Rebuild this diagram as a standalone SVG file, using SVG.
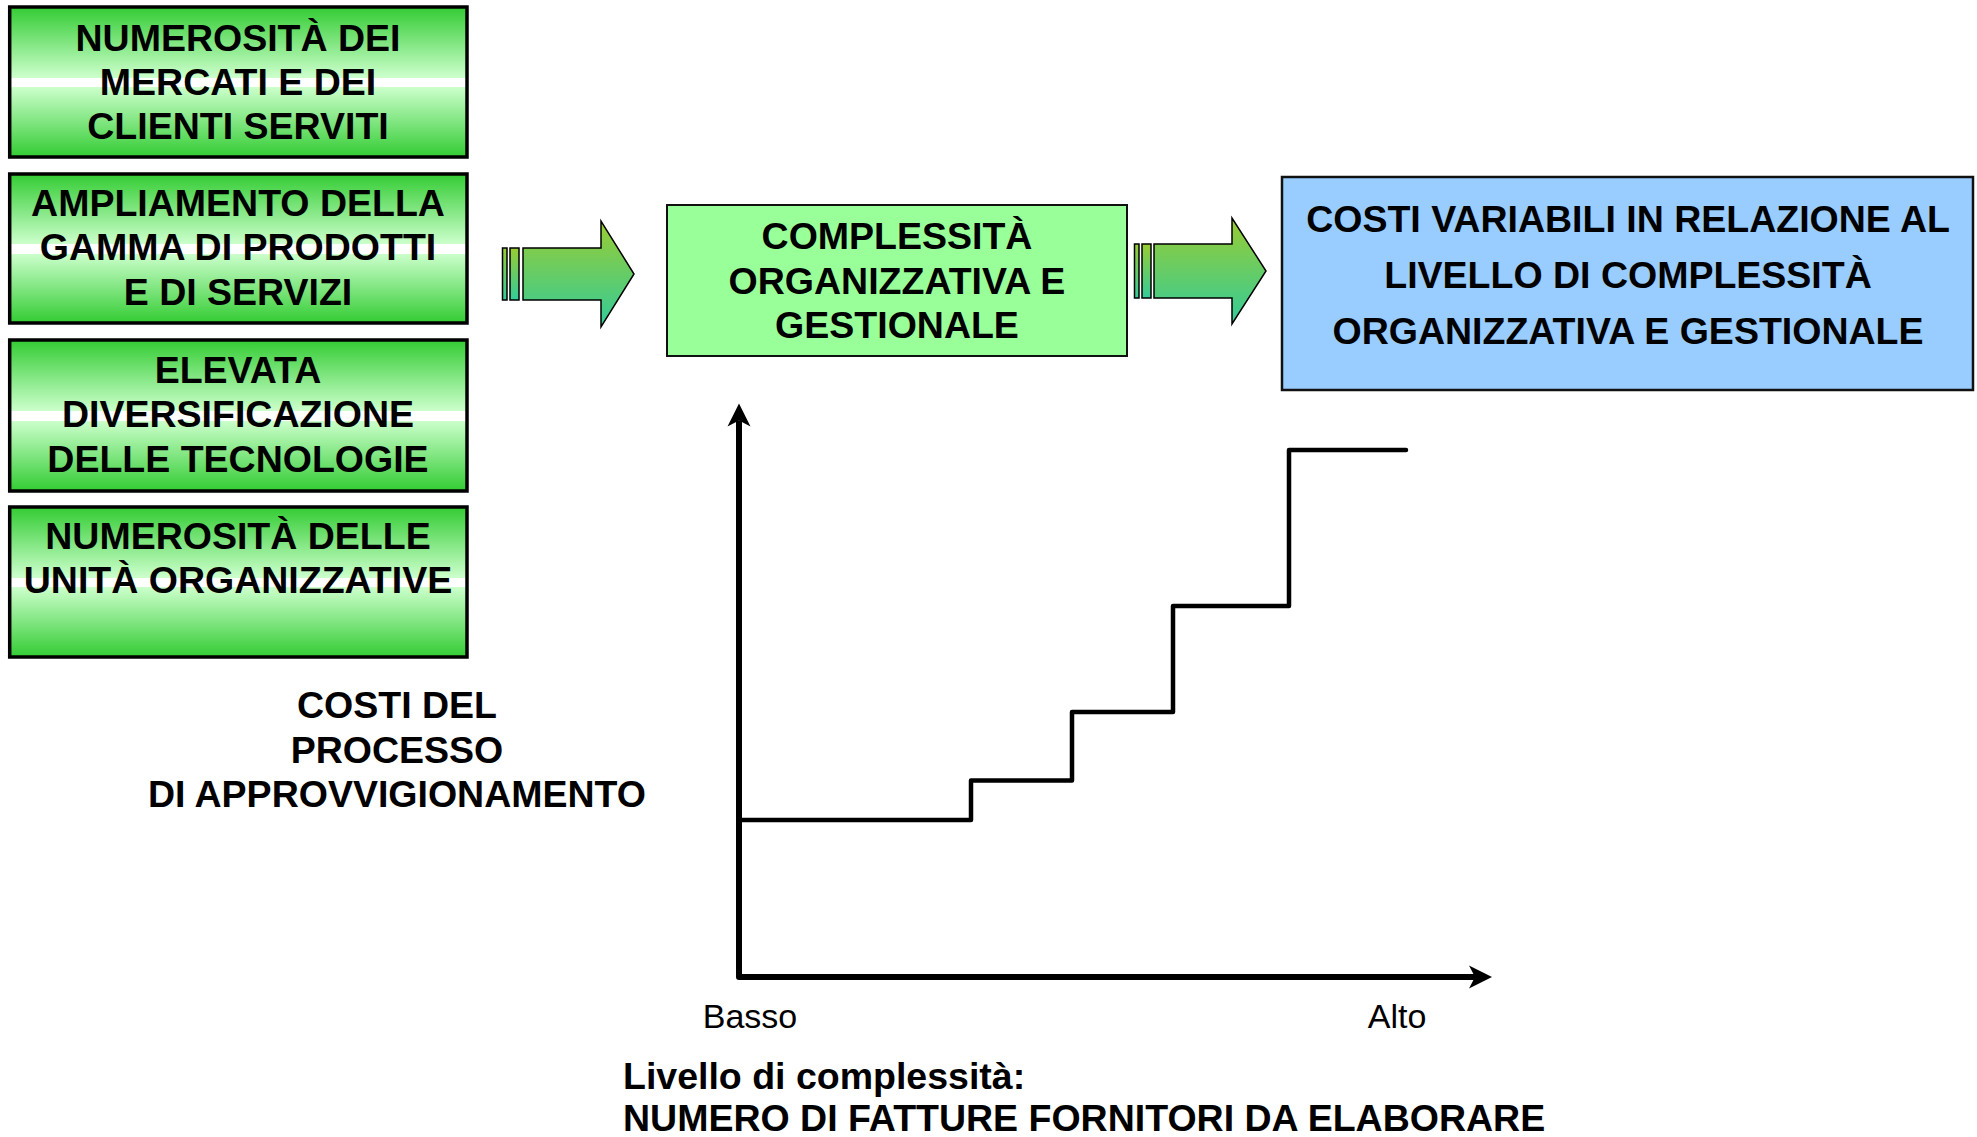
<svg xmlns="http://www.w3.org/2000/svg" width="1977" height="1137" viewBox="0 0 1977 1137">
<style>
  .t { font-family: "Liberation Sans", Arial, Helvetica, sans-serif; font-weight: bold; font-size: 37.5px; fill: #000; text-anchor: middle; }
  .tl { font-family: "Liberation Sans", Arial, Helvetica, sans-serif; font-weight: bold; font-size: 37.5px; fill: #000; }
  .r { font-family: "Liberation Sans", Arial, Helvetica, sans-serif; font-size: 34px; fill: #000; text-anchor: middle; }
  .gbox { fill: url(#gGreen); stroke: #000; stroke-width: 3.5; }
  .arr { fill: url(#gArrow); stroke: #000; stroke-width: 1.5; stroke-linejoin: miter; }
  .axis { fill: none; stroke: #000; stroke-width: 6; stroke-linejoin: round; }
  .step { fill: none; stroke: #000; stroke-width: 4.5; stroke-linejoin: round; stroke-linecap: round; }
</style>
<defs>
  <linearGradient id="gGreen" x1="0" y1="0" x2="0" y2="1">
    <stop offset="0" stop-color="#33CC33"/>
    <stop offset="0.47" stop-color="#CCFFCC"/>
    <stop offset="0.47" stop-color="#FFFFFF"/>
    <stop offset="0.535" stop-color="#FFFFFF"/>
    <stop offset="0.535" stop-color="#CCFFCC"/>
    <stop offset="1" stop-color="#33CC33"/>
  </linearGradient>
  <linearGradient id="gArrow" x1="0" y1="0" x2="0" y2="1">
    <stop offset="0" stop-color="#99CC33"/>
    <stop offset="1" stop-color="#33CC99"/>
  </linearGradient>
  <marker id="ah" markerUnits="userSpaceOnUse" markerWidth="30" markerHeight="30" viewBox="-8 -15 30 30" refX="0" refY="0" orient="auto-start-reverse">
    <path d="M-6,-11.5 L17,0 L-6,11.5 L0,0 Z" fill="#000"/>
  </marker>
</defs>
<rect width="1977" height="1137" fill="#FFFFFF"/>

<g id="box-numerosita-mercati">
  <rect class="gbox" x="9.7" y="7" width="457.3" height="150"/>
  <text class="t" x="238" y="51">NUMEROSITÀ DEI</text>
  <text class="t" x="238" y="95">MERCATI E DEI</text>
  <text class="t" x="238" y="139">CLIENTI SERVITI</text>
</g>
<g id="box-ampliamento">
  <rect class="gbox" x="9.7" y="174" width="457.3" height="149"/>
  <text class="t" x="238" y="216">AMPLIAMENTO DELLA</text>
  <text class="t" x="238" y="260">GAMMA DI PRODOTTI</text>
  <text class="t" x="238" y="305">E DI SERVIZI</text>
</g>
<g id="box-diversificazione">
  <rect class="gbox" x="9.7" y="340" width="457.3" height="151"/>
  <text class="t" x="238" y="383">ELEVATA</text>
  <text class="t" x="238" y="427">DIVERSIFICAZIONE</text>
  <text class="t" x="238" y="472">DELLE TECNOLOGIE</text>
</g>
<g id="box-unita">
  <rect class="gbox" x="9.7" y="507" width="457.3" height="150"/>
  <text class="t" x="238" y="549">NUMEROSITÀ DELLE</text>
  <text class="t" x="238" y="593">UNITÀ ORGANIZZATIVE</text>
</g>

<g id="box-complessita">
  <rect x="667" y="205" width="460" height="151" fill="#99FF99" stroke="#111" stroke-width="2"/>
  <text class="t" x="897" y="249">COMPLESSITÀ</text>
  <text class="t" x="897" y="294">ORGANIZZATIVA E</text>
  <text class="t" x="897" y="338">GESTIONALE</text>
</g>

<g id="box-costi-variabili">
  <rect x="1282" y="177" width="691" height="213" fill="#99CCFF" stroke="#111" stroke-width="2.5"/>
  <text class="t" x="1628" y="232">COSTI VARIABILI IN RELAZIONE AL</text>
  <text class="t" x="1628" y="288">LIVELLO DI COMPLESSITÀ</text>
  <text class="t" x="1628" y="344">ORGANIZZATIVA E GESTIONALE</text>
</g>

<g id="connectors">
  <g id="arrow-1">
    <rect class="arr" x="502.5" y="248" width="4.5" height="52"/>
    <rect class="arr" x="510" y="248" width="9" height="52"/>
    <path class="arr" d="M523,248 H601 V221 L634,274 L601,327 V300 H523 Z"/>
  </g>
  <g id="arrow-2">
    <rect class="arr" x="1134.5" y="244" width="4.5" height="54"/>
    <rect class="arr" x="1142" y="244" width="9" height="54"/>
    <path class="arr" d="M1154,244 H1232 V218 L1266,271 L1232,324 V298 H1154 Z"/>
  </g>
</g>

<g id="chart">
  <path class="axis" d="M739,420.5 V977 H1475" marker-start="url(#ah)" marker-end="url(#ah)"/>
  <path class="step" d="M739,820 H971 V780.5 H1072 V712 H1173 V606 H1289 V450 H1406"/>
  <text class="r" x="750" y="1028">Basso</text>
  <text class="r" x="1397" y="1028">Alto</text>
</g>

<g id="label-costi-processo">
  <text class="t" x="397" y="718">COSTI DEL</text>
  <text class="t" x="397" y="763">PROCESSO</text>
  <text class="t" x="397" y="807">DI APPROVVIGIONAMENTO</text>
</g>

<g id="label-livello">
  <text class="tl" x="623" y="1089">Livello di complessità:</text>
  <text class="tl" x="623" y="1131">NUMERO DI FATTURE FORNITORI DA ELABORARE</text>
</g>
</svg>
